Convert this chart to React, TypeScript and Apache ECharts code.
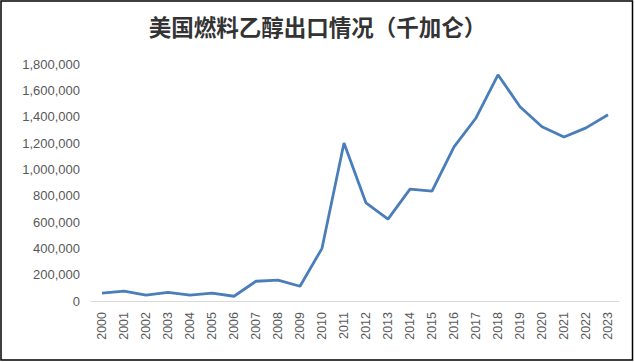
import React, { useEffect, useRef } from "react";
import * as echarts from "echarts";

const years = ["2000","2001","2002","2003","2004","2005","2006","2007","2008","2009","2010","2011","2012","2013","2014","2015","2016","2017","2018","2019","2020","2021","2022","2023"];
const exportsKGal = [60000, 75000, 45000, 65000, 45000, 60000, 36000, 150000, 158000, 112000, 400000, 1200000, 745000, 622000, 850000, 835000, 1170000, 1390000, 1718000, 1475000, 1323000, 1246000, 1315000, 1414000];
const titleText = "美国燃料乙醇出口情况（千加仑）";

export default function App() {
  const ref = useRef<HTMLDivElement>(null);
  useEffect(() => {
    const chart = echarts.init(ref.current!, null, { renderer: "svg" });
    chart.setOption({
      animation: false,
      backgroundColor: "#ffffff",
      title: {
        text: titleText,
        left: "center",
        top: 10,
        textStyle: { fontFamily: "Noto Sans CJK SC", fontSize: 22.5, fontWeight: "bold", color: "#333333" },
      },
      grid: { left: 91, right: 16, top: 64, bottom: 61 },
      xAxis: {
        type: "category",
        data: years,
        boundaryGap: true,
        axisLine: { lineStyle: { color: "#d9d9d9", width: 1 } },
        axisTick: { show: false },
        axisLabel: { rotate: 90, color: "#595959", fontSize: 12.5, fontFamily: "Liberation Sans", margin: 11, interval: 0 },
      },
      yAxis: {
        type: "value",
        min: 0,
        max: 1800000,
        interval: 200000,
        axisLine: { show: false },
        axisTick: { show: false },
        splitLine: { show: false },
        axisLabel: {
          color: "#595959",
          fontSize: 13,
          fontFamily: "Liberation Sans",
          margin: 11,
          formatter: (v: number) => v.toLocaleString("en-US"),
        },
      },
      series: [
        {
          type: "line",
          data: exportsKGal,
          symbol: "none",
          lineStyle: { color: "#4a7ebb", width: 2.8 },
        },
      ],
      graphic: [
        {
          type: "rect",
          shape: { x: 1, y: 1, width: 631.5, height: 359 },
          style: { fill: "none", stroke: "#000", lineWidth: 1.5 },
          silent: true,
          z: 100,
        },
      ],
    });
    return () => chart.dispose();
  }, []);
  return <div ref={ref} style={{ position: "absolute", left: 0, top: 0, width: 635, height: 362 }} />;
}
